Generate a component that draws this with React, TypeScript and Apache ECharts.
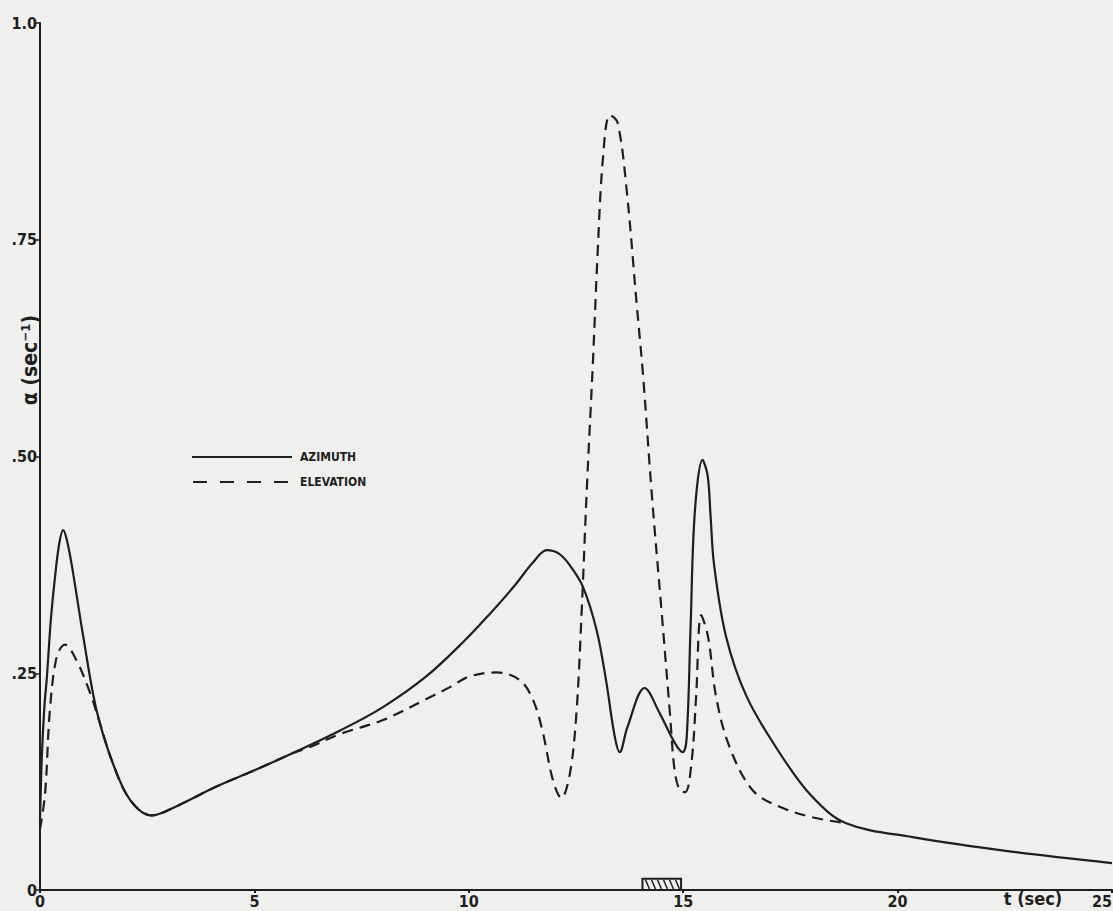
import React, { useEffect, useRef } from "react";
import * as echarts from "echarts";

const azimuth: [number, number][] = [
  [0, 0.08], [0.04, 0.15], [0.1, 0.21], [0.16, 0.245], [0.25, 0.31], [0.35, 0.361], [0.45, 0.4],
  [0.54, 0.415], [0.62, 0.405], [0.74, 0.375], [1.01, 0.292], [1.32, 0.207], [1.7, 0.146],
  [2.1, 0.104], [2.6, 0.086], [3.2, 0.097], [4.1, 0.119], [5.0, 0.138], [5.9, 0.158], [7.0, 0.184],
  [8.0, 0.211], [9.0, 0.246], [9.87, 0.286], [10.5, 0.319], [11.05, 0.35], [11.5, 0.378],
  [11.82, 0.392], [12.1, 0.388], [12.35, 0.375], [12.66, 0.35], [12.98, 0.3], [13.2, 0.242],
  [13.4, 0.178], [13.52, 0.159], [13.7, 0.188], [14.1, 0.233], [14.45, 0.204], [14.8, 0.17],
  [14.99, 0.159], [15.08, 0.175], [15.17, 0.3], [15.27, 0.435], [15.45, 0.496], [15.57, 0.478],
  [15.64, 0.43], [15.72, 0.375], [16.0, 0.292], [16.48, 0.223], [17.25, 0.158], [18.0, 0.108],
  [18.8, 0.077], [20.35, 0.061], [22.7, 0.044], [25, 0.031],
];

const elevation: [number, number][] = [
  [0, 0.07], [0.12, 0.112], [0.23, 0.207], [0.39, 0.269], [0.58, 0.283], [0.85, 0.265],
  [1.17, 0.227], [1.35, 0.2], [1.7, 0.146], [2.1, 0.104], [2.6, 0.086], [3.2, 0.097],
  [4.1, 0.119], [5.0, 0.138], [5.9, 0.158], [6.3, 0.165], [7.0, 0.18], [8.0, 0.196], [9.0, 0.22],
  [9.56, 0.234], [10.0, 0.246], [10.65, 0.251], [11.19, 0.242], [11.5, 0.219], [11.73, 0.181],
  [11.96, 0.127], [12.16, 0.106], [12.36, 0.135], [12.51, 0.204], [12.63, 0.319], [12.75, 0.46],
  [12.9, 0.615], [13.0, 0.73], [13.13, 0.845], [13.29, 0.894], [13.47, 0.885], [13.68, 0.808],
  [13.92, 0.673], [14.06, 0.596], [14.27, 0.455], [14.5, 0.319], [14.69, 0.204], [14.8, 0.138],
  [14.92, 0.115], [15.05, 0.113], [15.2, 0.15], [15.3, 0.222], [15.42, 0.317], [15.58, 0.292],
  [15.77, 0.222], [16.08, 0.165], [16.62, 0.115], [17.25, 0.096], [18.0, 0.084], [18.8, 0.077],
];

const hatchRange: [number, number, number][] = [[14.05, 14.95, 0.013]];

const yTickLabels: Record<string, string> = { "0": "0", "0.25": ".25", "0.5": ".50", "0.75": ".75", "1": "1.0" };
const xTickLabels = ["0", "5", "10", "15", "20", "25"];
const seriesNames = ["AZIMUTH", "ELEVATION"];
const yAxisTitle = "α (sec⁻¹)";
const xAxisTitle = "t (sec)";

const INK = "#1e1e1e";
const FONT = "'DejaVu Sans Condensed', 'Liberation Sans Narrow', 'DejaVu Sans', sans-serif";

export default function App() {
  const ref = useRef<HTMLDivElement>(null);
  useEffect(() => {
    if (!ref.current) return;
    const chart = echarts.init(ref.current, undefined, { renderer: "svg" });
    chart.setOption({
      animation: false,
      backgroundColor: "#efefed",
      grid: { left: 40, right: 1, top: 23, bottom: 21, containLabel: false, outerBoundsMode: "none" },
      xAxis: {
        type: "value",
        min: 0,
        max: 25,
        interval: 5,
        splitLine: { show: false },
        axisLine: { onZero: false, lineStyle: { color: INK, width: 2 } },
        axisTick: { show: true, length: 3, lineStyle: { color: INK, width: 2 } },
        axisLabel: {
          color: INK,
          fontFamily: FONT,
          fontSize: 16,
          fontWeight: "bold",
          margin: 3,
          alignMaxLabel: "right",
          formatter: (v: number) => xTickLabels[Math.round(v / 5)] ?? "",
        },
      },
      yAxis: {
        type: "value",
        min: 0,
        max: 1,
        interval: 0.25,
        splitLine: { show: false },
        axisLine: { onZero: false, lineStyle: { color: INK, width: 2 } },
        axisTick: { show: true, length: 5, lineStyle: { color: INK, width: 1.5 } },
        axisLabel: {
          color: INK,
          fontFamily: FONT,
          fontSize: 16,
          fontWeight: "bold",
          margin: 3,
          formatter: (v: number) => yTickLabels[String(v)] ?? "",
        },
      },
      graphic: [
        {
          type: "text",
          x: 30,
          y: 360,
          rotation: Math.PI / 2,
          style: {
            text: yAxisTitle,
            fill: INK,
            font: `bold 21px ${FONT}`,
            textAlign: "center",
            textVerticalAlign: "middle",
          },
        },
        {
          type: "text",
          x: 1033,
          y: 898,
          style: {
            text: xAxisTitle,
            fill: INK,
            font: `bold 18px ${FONT}`,
            textAlign: "center",
            textVerticalAlign: "middle",
          },
        },
        {
          type: "line",
          shape: { x1: 192, y1: 457, x2: 292, y2: 457 },
          style: { stroke: INK, lineWidth: 2 },
        },
        {
          type: "line",
          shape: { x1: 193, y1: 482, x2: 292, y2: 482 },
          style: { stroke: INK, lineWidth: 2, lineDash: [14, 13] },
        },
        {
          type: "text",
          x: 300,
          y: 457,
          style: { text: seriesNames[0], fill: INK, font: `bold 12px ${FONT}`, textVerticalAlign: "middle" },
        },
        {
          type: "text",
          x: 300,
          y: 482,
          style: { text: seriesNames[1], fill: INK, font: `bold 12px ${FONT}`, textVerticalAlign: "middle" },
        },
      ],
      series: [
        {
          name: seriesNames[0],
          type: "line",
          data: azimuth,
          showSymbol: false,
          smooth: 0.35,
          lineStyle: { color: INK, width: 2.2 },
        },
        {
          name: seriesNames[1],
          type: "line",
          data: elevation,
          showSymbol: false,
          smooth: 0.35,
          lineStyle: { color: INK, width: 2.2, type: [11, 7] },
        },
        {
          type: "custom",
          data: hatchRange,
          encode: { x: [0, 1], y: 2 },
          renderItem: (params: any, api: any) => {
            const a = api.coord([api.value(0), api.value(2)]);
            const b = api.coord([api.value(1), 0]);
            const w = b[0] - a[0];
            const h = b[1] - a[1];
            const children: any[] = [
              {
                type: "rect",
                shape: { x: a[0], y: a[1], width: w, height: h },
                style: { fill: "none", stroke: INK, lineWidth: 2 },
              },
            ];
            for (let dx = 3; dx < w - 3; dx += 6) {
              children.push({
                type: "line",
                shape: { x1: a[0] + dx, y1: a[1] + 1, x2: a[0] + dx + 4, y2: b[1] - 1 },
                style: { stroke: INK, lineWidth: 1.5 },
              });
            }
            return { type: "group", children };
          },
        },
      ],
    });
    return () => chart.dispose();
  }, []);
  return (
    <div
      ref={ref}
      style={{ position: "absolute", left: 0, top: 0, width: 1113, height: 911 }}
    />
  );
}
